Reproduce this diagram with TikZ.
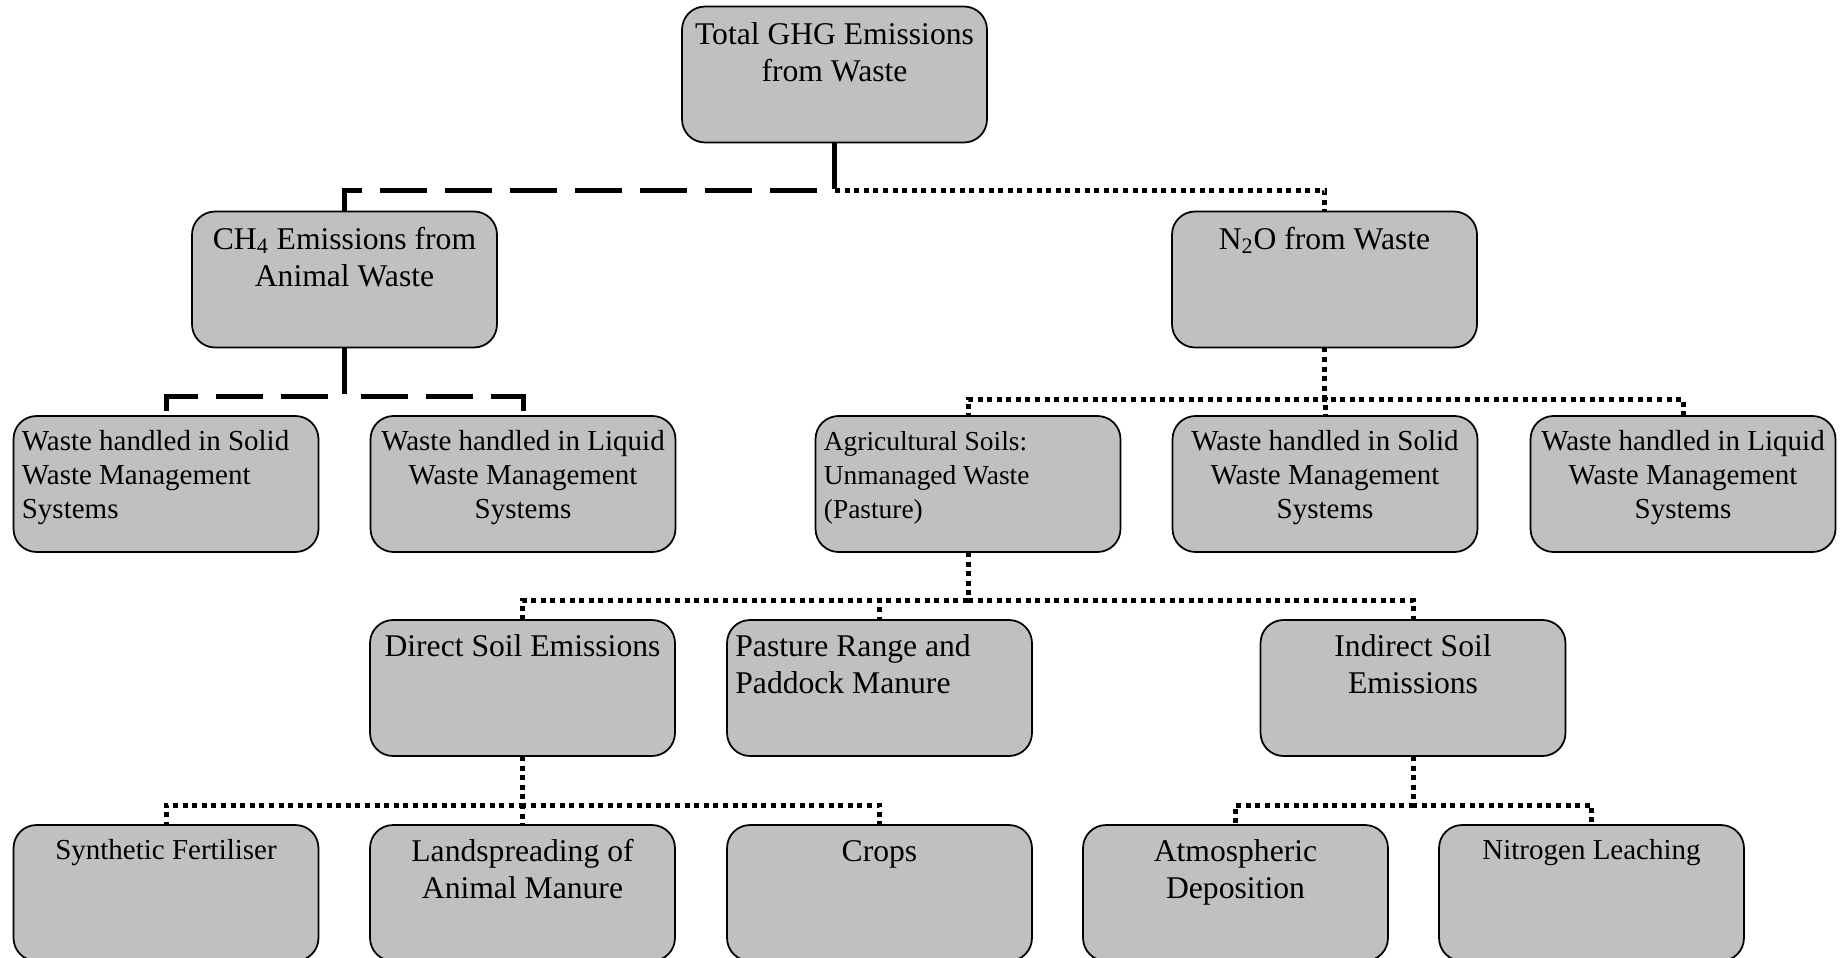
\documentclass[tikz,border=0pt]{standalone}
\usepackage{fontspec}
\setmainfont{Liberation Serif}
\usetikzlibrary{calc}
\definecolor{boxgray}{RGB}{192,192,192}
\tikzset{
  gbox/.style={draw=black, line width=0.035cm, fill=boxgray, rounded corners=0.46cm,
    minimum width=6.1cm, minimum height=2.72cm, inner sep=0pt, outer sep=0pt},
  bigtxt/.style={inner sep=0pt, font=\fontsize{18}{21}\selectfont},
  smalltxt/.style={inner sep=0pt, font=\fontsize{16.5}{19.3}\selectfont},
  agritxt/.style={inner sep=0pt, font=\fontsize{15.6}{19.3}\selectfont},
  dashc/.style={line width=0.1cm, dash pattern=on 0.94cm off 0.36cm},
  dotc/.style={line width=0.1cm, dash pattern=on 0.1cm off 0.092cm},
}
\newcommand\cbx[6]{%
  \node[gbox] (#1) at (#2,#3) {};
  \node[#4, align=center, anchor=north] (#1-t) at ([yshift=-#5]#1.north) {\strut #6};
}
\newcommand\lbx[6]{%
  \node[gbox] (#1) at (#2,#3) {};
  \node[#4, align=left, anchor=north west] (#1-t) at ([xshift=0.16cm, yshift=-#5]#1.north west) {\strut #6};
}
\begin{document}
\begin{tikzpicture}[x=0.02cm, y=-0.02cm]
\useasboundingbox (0,0) rectangle (1845,957);
\clip (0,0) rectangle (1845,957);

% boxes
\cbx{top}{834.5}{74.5}{bigtxt}{0.23cm}{Total GHG Emissions\\from Waste}
\cbx{ch4}{344.5}{279.5}{bigtxt}{0.23cm}{CH\textsubscript{4} Emissions from\\Animal Waste}
\cbx{n2o}{1324.5}{279.5}{bigtxt}{0.23cm}{N\textsubscript{2}O from Waste}

\lbx{solidL}{166}{484}{smalltxt}{0.21cm}{Waste handled in Solid\\Waste Management\\Systems}
\cbx{liquidL}{523}{484}{smalltxt}{0.21cm}{Waste handled in Liquid\\Waste Management\\Systems}
\lbx{agri}{968}{484}{agritxt}{0.21cm}{Agricultural Soils:\\Unmanaged Waste\\(Pasture)}
\cbx{solidR}{1325}{484}{smalltxt}{0.21cm}{Waste handled in Solid\\Waste Management\\Systems}
\cbx{liquidR}{1683}{484}{smalltxt}{0.21cm}{Waste handled in Liquid\\Waste Management\\Systems}

\cbx{direct}{522.5}{688}{bigtxt}{0.21cm}{Direct Soil Emissions}
\lbx{pasture}{879.5}{688}{bigtxt}{0.21cm}{Pasture Range and\\Paddock Manure}
\cbx{indirect}{1413}{688}{bigtxt}{0.21cm}{Indirect Soil\\Emissions}

\cbx{synth}{166}{893}{smalltxt}{0.21cm}{Synthetic Fertiliser}
\cbx{land}{522.5}{893}{bigtxt}{0.21cm}{Landspreading of\\Animal Manure}
\cbx{crops}{879.5}{893}{bigtxt}{0.21cm}{Crops}
\cbx{atmos}{1235.5}{893}{bigtxt}{0.21cm}{Atmospheric\\Deposition}
\cbx{nitro}{1591.5}{893}{smalltxt}{0.21cm}{Nitrogen Leaching}

% bar levels
\coordinate (b0) at (0,190);
\coordinate (b1L) at (0,396);
\coordinate (b1R) at (0,399);
\coordinate (b2) at (0,600);
\coordinate (b3) at (0,805);

% connectors
\draw[dashc] (top.south) -- (top.south |- b0) -| (ch4.north);
\draw[dotc] (top.south) -- (top.south |- b0) -| (n2o.north);
\foreach \c in {solidL, liquidL}
  \draw[dashc] (ch4.south) -- (ch4.south |- b1L) -| (\c.north);
\foreach \c in {agri, solidR, liquidR}
  \draw[dotc] (n2o.south) -- (n2o.south |- b1R) -| (\c.north);
\foreach \c in {direct, pasture, indirect}
  \draw[dotc] (agri.south) -- (agri.south |- b2) -| (\c.north);
\foreach \c in {synth, land, crops}
  \draw[dotc] (direct.south) -- (direct.south |- b3) -| (\c.north);
\foreach \c in {atmos, nitro}
  \draw[dotc] (indirect.south) -- (indirect.south |- b3) -| (\c.north);
\end{tikzpicture}
\end{document}
